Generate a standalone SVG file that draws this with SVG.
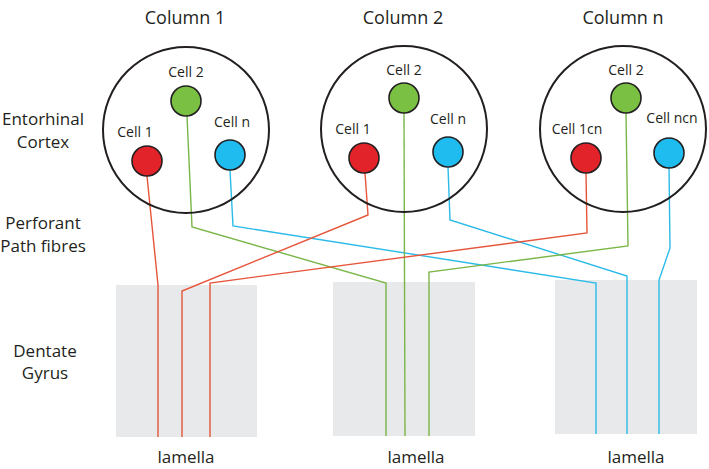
<svg xmlns="http://www.w3.org/2000/svg" width="709" height="469" viewBox="0 0 709 469">
<style>
text{font-family:"Open Sans","Liberation Sans",sans-serif;fill:#231f20;text-anchor:middle}
.title{font-size:18px}
.side{font-size:17px}
.cl{font-size:14px}
.lam{font-size:17px}
.col{fill:none;stroke:#231f20;stroke-width:2}
.red{fill:#e2232a;stroke:#231f20;stroke-width:1.6}
.grn{fill:#7ac143;stroke:#231f20;stroke-width:1.6}
.blu{fill:#1ebcef;stroke:#231f20;stroke-width:1.6}
.gy{fill:#e8e9ea}
.lr{fill:none;stroke:#e6553b;stroke-width:1.4}
.lg{fill:none;stroke:#7ab648;stroke-width:1.4}
.lb{fill:none;stroke:#2bbbe8;stroke-width:1.4}
</style>
<rect width="709" height="469" fill="#ffffff"/>
<g id="lamella1"><rect class="gy" x="116" y="285" width="141" height="152"/><text class="lam" x="186" y="463">lamella</text></g>
<g id="lamella2"><rect class="gy" x="333" y="282" width="142" height="154"/><text class="lam" x="416" y="463">lamella</text></g>
<g id="lamella3"><rect class="gy" x="555" y="280" width="142" height="154"/><text class="lam" x="636" y="463">lamella</text></g>
<g id="labels">
<text class="side" x="43" y="125">Entorhinal</text>
<text class="side" x="43" y="148">Cortex</text>
<text class="side" x="43" y="229">Perforant</text>
<text class="side" x="43" y="252">Path fibres</text>
<text class="side" x="45" y="357">Dentate</text>
<text class="side" x="45" y="379">Gyrus</text>
</g>
<g id="connectors">
<polyline class="lr" points="147,176 158,285 158,437"/>
<polyline class="lg" points="187,116 192,227 386,283 386,436"/>
<polyline class="lb" points="230,170 233,226 596,283 596,434"/>
<polyline class="lr" points="365,173 368,215 182,291 182,437"/>
<polyline class="lg" points="404,113 405,436"/>
<polyline class="lb" points="448,167 450,220 627,276 627,434"/>
<polyline class="lr" points="586,173 587,233 210,283 210,437"/>
<polyline class="lg" points="626,113 628,246 429,272 429,436"/>
<polyline class="lb" points="669,168 670,248 659,280 659,434"/>
</g>
<g id="column1">
<text class="title" x="185" y="24">Column 1</text>
<circle class="col" cx="186" cy="130" r="83"/>
<g id="c1cell2"><circle class="grn" cx="186" cy="101" r="15"/><text class="cl" x="186" y="77">Cell 2</text></g>
<g id="c1cell1"><circle class="red" cx="147" cy="161" r="15"/><text class="cl" x="135" y="137">Cell 1</text></g>
<g id="c1celln"><circle class="blu" cx="230" cy="155" r="15"/><text class="cl" x="232" y="127">Cell n</text></g>
</g>
<g id="column2">
<text class="title" x="403" y="24">Column 2</text>
<circle class="col" cx="404" cy="129" r="83"/>
<g id="c2cell2"><circle class="grn" cx="404" cy="98" r="15"/><text class="cl" x="404" y="75">Cell 2</text></g>
<g id="c2cell1"><circle class="red" cx="364" cy="158" r="15"/><text class="cl" x="353" y="134">Cell 1</text></g>
<g id="c2celln"><circle class="blu" cx="448" cy="152" r="15"/><text class="cl" x="448" y="124">Cell n</text></g>
</g>
<g id="columnn">
<text class="title" x="623" y="24">Column n</text>
<circle class="col" cx="623" cy="129" r="83"/>
<g id="cncell2"><circle class="grn" cx="626" cy="98" r="15"/><text class="cl" x="626" y="75">Cell 2</text></g>
<g id="cncell1"><circle class="red" cx="586" cy="158" r="15"/><text class="cl" x="577" y="134">Cell 1cn</text></g>
<g id="cncelln"><circle class="blu" cx="669" cy="153" r="15"/><text class="cl" x="672" y="123">Cell ncn</text></g>
</g>
</svg>
